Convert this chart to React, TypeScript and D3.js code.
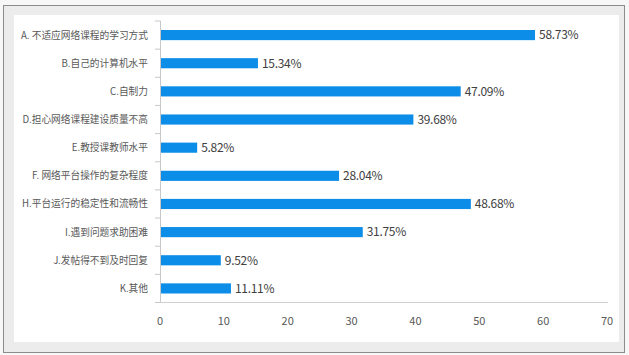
import React from "react";
import * as d3 from "d3";

const categories = [
  "A. 不适应网络课程的学习方式",
  "B.自己的计算机水平",
  "C.自制力",
  "D.担心网络课程建设质量不高",
  "E.教授课教师水平",
  "F. 网络平台操作的复杂程度",
  "H.平台运行的稳定性和流畅性",
  "I.遇到问题求助困难",
  "J.发帖得不到及时回复",
  "K.其他",
];
const values = [58.73, 15.34, 47.09, 39.68, 5.82, 28.04, 48.68, 31.75, 9.52, 11.11];
const xTicks = [0, 10, 20, 30, 40, 50, 60, 70];

const W = 629;
const H = 355;
const FONT = "'Noto Sans CJK SC', 'Liberation Sans Narrow', sans-serif";

export default function App() {
  const x = d3.scaleLinear().domain([0, 70]).range([160, 607]);
  const y = d3.scaleBand<string>().domain(categories).range([21, 302.5]).paddingInner(0.64).paddingOuter(0.32);
  const band = d3.scaleBand<string>().domain(categories).range([21, 302.5]);
  const boundaries = categories.map((c) => band(c)!).concat([302.5]);

  return (
    <svg width={W} height={H} style={{ position: "absolute", left: 0, top: 0 }}>
      <rect x={0} y={0} width={W} height={H} fill="#f7f7f7" />
      <rect x={3.5} y={5.5} width={621} height={347} fill="#ececec" stroke="#8c8c8c" strokeWidth={1} />
      <rect x={14} y={15} width={605} height={327} fill="#ffffff" />
      {/* y axis */}
      <line x1={160.5} x2={160.5} y1={21} y2={302.5} stroke="#c8c8c8" />
      {boundaries.map((b, i) => (
        <line key={i} x1={155} x2={160.5} y1={b} y2={b} stroke="#c8c8c8" />
      ))}
      {/* x axis */}
      <line x1={160} x2={608} y1={302.5} y2={302.5} stroke="#d0d0d0" />
      {xTicks.map((t) => (
        <text key={t} x={x(t)} y={325} textAnchor="middle" fontSize={11} fill="#595959" fontFamily={FONT}>
          {t}
        </text>
      ))}
      {categories.map((c, i) => {
        const yy = y(c)!;
        const h = y.bandwidth();
        return (
          <g key={c}>
            <rect x={x(0) + 1} y={yy} width={x(values[i]) - x(0) - 1} height={h} fill="#0b8de8" />
            <text x={x(values[i]) + 4} y={yy + h / 2} dy="0.36em" fontSize={12} fill="#404040" fontFamily={FONT} style={{ letterSpacing: "-0.3px" }}>
              {values[i].toFixed(2)}%
            </text>
            <text x={148} y={yy + h / 2} dy="0.36em" textAnchor="end" fontSize={9.7} fill="#595959" fontFamily={FONT}>
              {c}
            </text>
          </g>
        );
      })}
    </svg>
  );
}
